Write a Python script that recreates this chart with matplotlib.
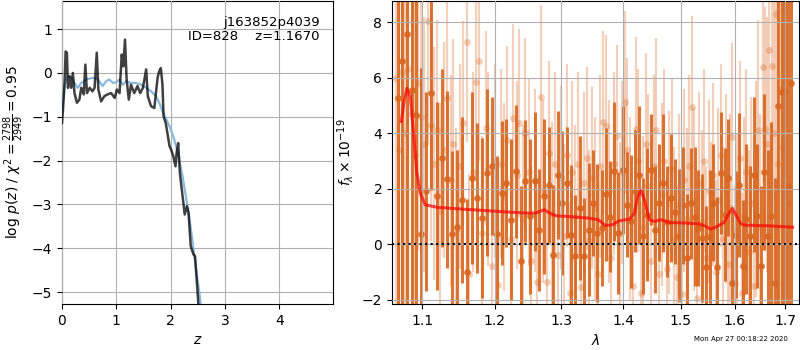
import matplotlib
matplotlib.use("Agg")
import matplotlib.pyplot as plt
from matplotlib.ticker import FixedLocator, FormatStrFormatter, NullLocator

# ---------------- left panel: p(z) ----------------
z_pz = [0.0, 0.018, 0.05, 0.067, 0.09, 0.11, 0.14, 0.17, 0.2, 0.23, 0.275, 0.32, 0.355,
        0.40, 0.43, 0.46, 0.51, 0.56, 0.60, 0.64, 0.67, 0.72, 0.78, 0.84, 0.905, 0.97,
        1.01, 1.06, 1.10, 1.13, 1.16, 1.19, 1.23, 1.27, 1.33, 1.39, 1.44, 1.49, 1.55,
        1.58, 1.64, 1.70, 1.76, 1.79, 1.82, 1.85, 1.87, 1.91, 1.98, 2.01, 2.05, 2.09,
        2.11, 2.14, 2.17, 2.22, 2.26, 2.30, 2.33, 2.37, 2.42, 2.45, 2.51, 2.56]
logpz = [-1.14, -0.84, -0.15, 0.49, 0.46, -0.34, -0.08, -0.34, 0.0, -0.46, -0.68, -0.61,
         -0.34, -0.49, 0.19, -0.46, -0.34, -0.42, -0.34, 0.46, -0.38, -0.65, -0.53, -0.49,
         -0.46, -0.57, -0.38, -0.46, 0.42, 0.15, 0.76, -0.15, -0.61, -0.27, -0.46, -0.30,
         -0.46, -0.34, 0.08, -0.53, -0.76, -0.80, -0.11, 0.04, 0.11, -0.27, -0.99, -1.14,
         -1.67, -1.75, -1.90, -2.13, -1.83, -1.60, -2.28, -2.81, -3.23, -3.04, -3.19,
         -3.95, -4.14, -4.18, -5.25, -5.7]

z_prior = [0.0, 0.05, 0.10, 0.16, 0.23, 0.29, 0.355, 0.45, 0.57, 0.66, 0.75, 0.81, 0.87,
           0.94, 1.00, 1.06, 1.12, 1.18, 1.27, 1.36, 1.46, 1.55, 1.64, 1.73, 1.79, 1.85,
           1.91, 1.98, 2.04, 2.10, 2.16, 2.22, 2.28, 2.34, 2.40, 2.46, 2.53, 2.56, 2.60]
logprior = [-0.91, -0.30, -0.09, -0.08, -0.23, -0.34, -0.23, -0.15, -0.11, -0.15, -0.30,
            -0.19, -0.15, -0.23, -0.21, -0.15, -0.27, -0.19, -0.23, -0.23, -0.27, -0.34,
            -0.42, -0.53, -0.68, -0.87, -1.03, -1.22, -1.41, -1.67, -1.98, -2.36, -2.81,
            -3.27, -3.80, -4.41, -5.02, -5.32, -5.7]

# ---------------- right panel: spectrum ----------------
wave_bin = [1.068, 1.074, 1.080, 1.086, 1.092, 1.098, 1.105, 1.112, 1.119, 1.126, 1.133,
            1.140, 1.147, 1.154, 1.161, 1.168, 1.175, 1.182, 1.189, 1.196, 1.203, 1.210,
            1.217, 1.224, 1.231, 1.238, 1.245, 1.252, 1.259, 1.266, 1.273, 1.280, 1.287,
            1.294, 1.301, 1.308, 1.315, 1.322, 1.329, 1.336, 1.343, 1.350, 1.357, 1.364,
            1.371, 1.378, 1.385, 1.392, 1.399, 1.406, 1.413, 1.420, 1.427, 1.434, 1.441,
            1.448, 1.455, 1.462, 1.469, 1.476, 1.483, 1.490, 1.497, 1.504, 1.511, 1.518,
            1.525, 1.532, 1.539, 1.546, 1.553, 1.560, 1.567, 1.574, 1.581, 1.588, 1.595,
            1.602, 1.609, 1.616, 1.623, 1.630, 1.637, 1.644, 1.651, 1.658, 1.665, 1.672,
            1.679, 1.686, 1.693, 1.700, 1.706, 1.712]
flux_bin = [5.27, 6.6, 7.58, 5.56, 4.66, 0.36, 1.9, 5.44, 1.74, 3.1, 2.34,
            0.37, 0.61, 1.6, -0.99, 2.38, 1.66, 0.94, 2.58, 2.82, 0.37, 1.84,
            2.2, 0.88, 2.62, -0.62, 2.26, 1.0, 2.26, 0.52, 1.72, 2.14, -0.38,
            2.5, 1.48, 2.22, 0.34, -0.44, 1.3, -0.44, 0.52, 1.48, 0.40, 0.58,
            1.80, 0.99, 2.62, 0.40, 2.68, 1.42, 0.82, 1.90, 2.5, 0.3, 1.06,
            2.68, 0.52, 1.5, 2.2, 0.81, 1.66, 1.17, 0.30, 1.4, -0.5, 1.48,
            0.99, 0.58, 0.22, -0.81, 0.27, 1.5, -0.81, 2.56, 1.06, 2.4, -1.41,
            0.34, 2.14, -0.8, 0.9, 0.3, 2.5, 1.0, -0.8, 2.6, 0.3, 1.0,
            -1.4, 5.0, 5.5, 5.5, 2.1, 5.8]
err_bin = [12, 12, 12, 10, 8, 6, 3.6, 3.5, 3.4, 3.2, 3.2,
           3.0, 2.8, 3.0, 2.6, 3.1, 2.7, 2.9, 3.0, 2.5, 2.8, 2.6,
           2.3, 2.9, 2.4, 2.7, 2.2, 2.8, 2.5, 2.2, 2.8, 2.1, 2.5,
           2.3, 2.6, 2.0, 2.5, 2.2, 2.6, 2.1, 2.4, 1.9, 2.5, 2.1,
           2.4, 2.0, 2.5, 2.2, 2.3, 1.9, 2.4, 2.2, 2.5, 2.1, 2.4,
           2.0, 2.3, 2.1, 2.5, 2.0, 2.3, 1.9, 2.4, 2.1, 2.3, 2.0,
           2.5, 2.1, 2.3, 2.2, 2.4, 2.1, 2.5, 2.2, 2.4, 2.1, 2.6,
           2.3, 2.6, 2.4, 2.7, 2.5, 2.8, 2.6, 2.9, 2.8, 3.1, 3.4,
           3.8, 10, 12, 12, 12, 12]

wave_raw = [1.066, 1.070, 1.074, 1.078, 1.082, 1.086, 1.090, 1.094, 1.098, 1.102, 1.107,
            1.111, 1.116, 1.120, 1.124, 1.129, 1.133, 1.138, 1.142, 1.146, 1.151, 1.155,
            1.160, 1.164, 1.169, 1.173, 1.178, 1.182, 1.187, 1.191, 1.196, 1.200, 1.205,
            1.209, 1.214, 1.218, 1.223, 1.227, 1.232, 1.236, 1.241, 1.245, 1.250, 1.254,
            1.259, 1.263, 1.268, 1.272, 1.277, 1.281, 1.286, 1.290, 1.295, 1.299, 1.304,
            1.308, 1.313, 1.317, 1.322, 1.326, 1.331, 1.335, 1.340, 1.344, 1.349, 1.353,
            1.358, 1.362, 1.367, 1.371, 1.376, 1.380, 1.385, 1.389, 1.394, 1.398, 1.403,
            1.407, 1.412, 1.416, 1.421, 1.425, 1.430, 1.434, 1.439, 1.443, 1.448, 1.452,
            1.457, 1.461, 1.466, 1.470, 1.475, 1.479, 1.484, 1.488, 1.493, 1.497, 1.502,
            1.506, 1.511, 1.515, 1.520, 1.524, 1.529, 1.533, 1.538, 1.542, 1.547, 1.551,
            1.556, 1.560, 1.565, 1.569, 1.574, 1.578, 1.583, 1.587, 1.592, 1.596, 1.601,
            1.605, 1.610, 1.614, 1.619, 1.623, 1.628, 1.632, 1.637, 1.641, 1.646, 1.650,
            1.655, 1.659, 1.664, 1.668, 1.673, 1.677, 1.682, 1.686, 1.691, 1.695, 1.700,
            1.704]
flux_raw = [6.0, 3.4, 6.2, 4.0, 6.3, 4.7, 3.2, 5.8, 4.6, 3.6, 8.05,
            4.3, 2.9, 4.1, 1.2, 3.4, 5.26, 2.3, 3.6, 0.5, 2.8, 4.36,
            7.28, -1.07, 2.6, 5.86, 6.6, 0.4, 4.2, 2.7, -0.8, 3.0, -1.47,
            2.9, 1.7, 3.76, 0.2, 4.54, 2.5, 4.36, 0.9, 4.02, 2.6, -0.6,
            2.3, -1.35, 5.32, 1.9, -1.35, 3.3, 1.1, 2.9, -0.4, 2.4, 0.3,
            3.2, -1.77, 2.6, 1.0, 2.9, -1.53, 2.2, 3.1, 0.1, 2.4, 1.3,
            -1.07, 2.8, 4.4, 4.26, 1.9, -0.5, 2.9, 3.9, 0.4, 2.6, 5.12,
            3.4, 1.3, -1.5, 4.16, 3.0, -1.77, 0.6, 3.6, 2.1, -0.6, 2.8,
            4.12, -1.07, 1.8, 3.0, -0.9, 1.5, 2.7, 0.2, -1.2, 1.4, -1.79,
            2.3, 0.9, 2.8, 4.94, 1.6, -1.95, 2.2, 0.8, 3.0, -0.5, 1.9,
            0.4, 2.5, -1.0, 1.6, 3.2, 0.2, 2.0, -0.7, 1.3, 3.85, -1.4,
            0.5, 3.1, -1.77, 1.0, 2.6, -0.3, 1.5, -1.5, 2.0, 4.1, 0.6,
            6.4, 4.16, 3.6, 7.0, 6.42, 4.0, 8.3, 2.9, 5.6, 3.5, 6.0,
            1.5]
err_raw = [12, 12, 12, 12, 12, 10, 8, 6, 5.0, 4.6, 4.5,
           4.2, 4.2, 4.0, 3.9, 3.9, 3.8, 3.8, 3.8, 3.7, 3.7, 3.7,
           3.6, 3.6, 3.6, 3.6, 3.6, 3.5, 3.5, 3.5, 3.5, 3.5, 3.4,
           3.4, 3.4, 3.4, 3.4, 3.4, 3.4, 3.4, 3.4, 3.4, 3.4, 3.4,
           3.3, 3.3, 3.3, 3.3, 3.3, 3.3, 3.3, 3.3, 3.3, 3.3, 3.3,
           3.3, 3.3, 3.3, 3.3, 3.3, 3.3, 3.3, 3.3, 3.3, 3.3, 3.3,
           3.3, 3.3, 3.3, 3.3, 3.3, 3.3, 3.3, 3.3, 3.3, 3.3, 3.3,
           3.3, 3.3, 3.3, 3.3, 3.3, 3.3, 3.3, 3.3, 3.3, 3.3, 3.3,
           3.3, 3.3, 3.3, 3.3, 3.3, 3.3, 3.3, 3.3, 3.3, 3.3, 3.3,
           3.3, 3.3, 3.3, 3.3, 3.3, 3.3, 3.3, 3.3, 3.3, 3.3, 3.3,
           3.3, 3.3, 3.3, 3.3, 3.3, 3.3, 3.4, 3.4, 3.4, 3.4, 3.5,
           3.5, 3.5, 3.6, 3.6, 3.7, 3.7, 3.8, 3.8, 3.9, 4.0, 4.1,
           4.2, 4.4, 4.6, 5.5, 6.5, 8.0, 10, 12, 12, 12, 12,
           12]

wave_model = [1.0727, 1.0765, 1.080, 1.0844, 1.0886, 1.093, 1.0974, 1.104, 1.1195, 1.1562,
              1.2046, 1.2447, 1.26, 1.2735, 1.2815, 1.2922, 1.3085, 1.342, 1.359, 1.370,
              1.382, 1.393, 1.4106, 1.419, 1.4246, 1.4303, 1.436, 1.4446, 1.4533, 1.465,
              1.4794, 1.509, 1.5333, 1.5457, 1.555, 1.5674, 1.58, 1.5896, 1.596, 1.6025,
              1.6122, 1.622, 1.6683, 1.7155]
flux_model = [4.42, 5.20, 5.62, 5.32, 4.0, 2.56, 1.84, 1.42, 1.33, 1.26,
              1.18, 1.12, 1.12, 1.24, 1.12, 1.02, 1.0, 0.94, 0.88, 0.67,
              0.70, 0.84, 0.90, 1.12, 1.72, 1.93, 1.60, 0.88, 0.82, 0.88,
              0.78, 0.76, 0.73, 0.64, 0.54, 0.64, 0.78, 1.12, 1.29, 1.06,
              0.73, 0.68, 0.66, 0.61]

lam_ticks = [1.1, 1.2, 1.3, 1.4, 1.5, 1.6, 1.7]
pz_label = r'log $p(z)$ / $\chi^2=\frac{2798}{2949}=0.95$'
title_text = 'j163852p4039\nID=828    z=1.1670'
stamp = 'Mon Apr 27 00:18:22 2020'

orange = '#d9661f'

fig = plt.figure(figsize=(8, 3.5), dpi=100)
ax1 = fig.add_axes([62/800, 46/350, 271/800, 303/350])
ax2 = fig.add_axes([392/800, 46/350, 407/800, 303/350])

# left
ax1.plot(z_prior, logprior, color='#7fb2d8', lw=1.6, alpha=0.9, zorder=3)
ax1.plot(z_pz, logpz, color='k', lw=1.8, alpha=0.75, zorder=4)
ax1.set_xlim(0, 4.99)
ax1.set_ylim(-5.27, 1.64)
ax1.set_xticks([0, 1, 2, 3, 4])
ax1.set_yticks([-5, -4, -3, -2, -1, 0, 1])
ax1.grid(True, color='#b0b0b0', lw=0.8)
ax1.set_axisbelow(False)
ax1.set_xlabel(r'$z$')
ax1.set_ylabel(pz_label)
ax1.text(0.95, 0.95, title_text, ha='right', va='top', transform=ax1.transAxes,
         fontsize=9.5, linespacing=1.1)

# right
ax2.errorbar(wave_raw, flux_raw, yerr=err_raw, color=orange, alpha=0.3,
             marker='o', ms=5, ls='none', elinewidth=1.6, capsize=0, mew=0, zorder=1)
ax2.errorbar(wave_bin, flux_bin, yerr=err_bin, color=orange, alpha=0.9,
             marker='o', ms=4.8, ls='none', elinewidth=2.2, capsize=0, mew=0, zorder=2)
ax2.plot(wave_model, flux_model, color='red', alpha=0.7, lw=2.2, zorder=5)
ax2.axhline(0, color='k', ls=':', lw=1.5, zorder=6)
ax2.set_xscale('log')
ax2.set_xlim(1.0608, 1.7287)
ax2.set_ylim(-2.16, 8.77)
ax2.xaxis.set_major_locator(FixedLocator(lam_ticks))
ax2.xaxis.set_major_formatter(FormatStrFormatter('%.1f'))
ax2.xaxis.set_minor_locator(NullLocator())
ax2.set_yticks([-2, 0, 2, 4, 6, 8])
ax2.grid(True, color='#b0b0b0', lw=0.8)
ax2.set_axisbelow(False)
ax2.set_xlabel(r'$\lambda$')
ax2.set_ylabel(r'$f_\lambda \times 10^{-19}$')

fig.text(0.985, 0.031, stamp, ha='right', va='center', fontsize=5)

fig.savefig('out.png', dpi=100)
